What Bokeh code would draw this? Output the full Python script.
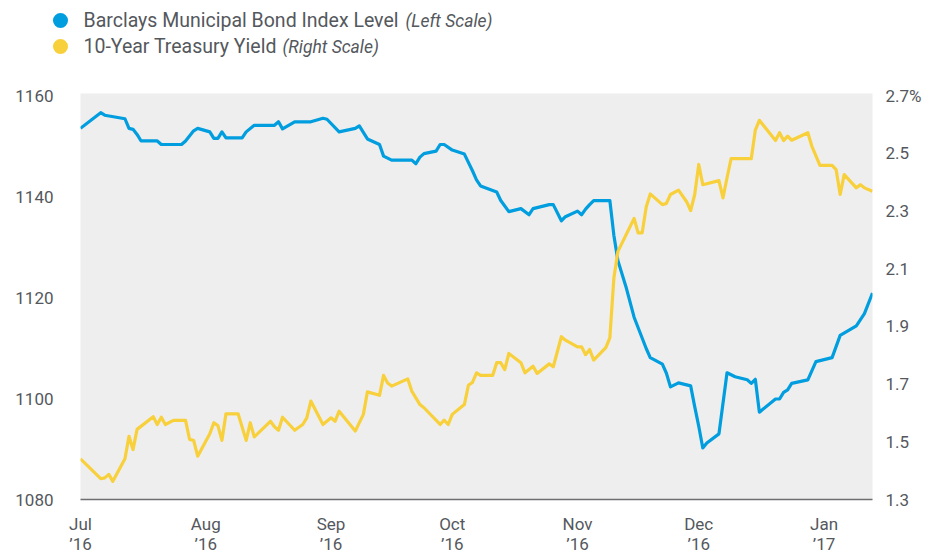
import pandas as pd
from bokeh.plotting import figure
from bokeh.layouts import column
from bokeh.models import Range1d, LinearAxis, FixedTicker
from bokeh.core.properties import value
from bokeh.embed import file_html
from bokeh.resources import INLINE

# ---------------- data ----------------
bond_dates = [
    "2016-07-01", "2016-07-06", "2016-07-07", "2016-07-12", "2016-07-13", "2016-07-14", "2016-07-15",
    "2016-07-16", "2016-07-20", "2016-07-21", "2016-07-26", "2016-07-27", "2016-07-29", "2016-07-30",
    "2016-08-02", "2016-08-03", "2016-08-04", "2016-08-05", "2016-08-06", "2016-08-10", "2016-08-11",
    "2016-08-13", "2016-08-18", "2016-08-19", "2016-08-20", "2016-08-23", "2016-08-27", "2016-08-30",
    "2016-08-31",
    "2016-09-03", "2016-09-07", "2016-09-08", "2016-09-10", "2016-09-13", "2016-09-14", "2016-09-16",
    "2016-09-21", "2016-09-22", "2016-09-23", "2016-09-24", "2016-09-27", "2016-09-28", "2016-09-29",
    "2016-10-01", "2016-10-04", "2016-10-06", "2016-10-07", "2016-10-08", "2016-10-12", "2016-10-13",
    "2016-10-15", "2016-10-18", "2016-10-20", "2016-10-21", "2016-10-25", "2016-10-26", "2016-10-28",
    "2016-10-29",
    "2016-11-01", "2016-11-02", "2016-11-03", "2016-11-04", "2016-11-05", "2016-11-09", "2016-11-10",
    "2016-11-11", "2016-11-13", "2016-11-15", "2016-11-18", "2016-11-19", "2016-11-22", "2016-11-23",
    "2016-11-24", "2016-11-26", "2016-11-29", "2016-11-30",
    "2016-12-01", "2016-12-02", "2016-12-03", "2016-12-06", "2016-12-08", "2016-12-10", "2016-12-13",
    "2016-12-14", "2016-12-15", "2016-12-16", "2016-12-20", "2016-12-21", "2016-12-22", "2016-12-23",
    "2016-12-24", "2016-12-28", "2016-12-30",
    "2017-01-03", "2017-01-05", "2017-01-09", "2017-01-11", "2017-01-13",
]
bond_level = [
    1153.5, 1156.6, 1156.1, 1155.4, 1153.5, 1153.3, 1152.3,
    1151.0, 1151.0, 1150.3, 1150.3, 1151.0, 1153.0, 1153.5,
    1152.8, 1151.5, 1151.5, 1152.8, 1151.6, 1151.6, 1152.8,
    1154.1, 1154.1, 1154.8, 1153.4, 1154.8, 1154.8, 1155.5,
    1155.3,
    1152.8, 1153.5, 1154.0, 1151.4, 1150.3, 1148.0, 1147.2,
    1147.2, 1146.5, 1147.8, 1148.5, 1149.0, 1150.3, 1150.3,
    1149.2, 1148.4, 1145.1, 1143.3, 1142.1, 1140.9, 1139.2,
    1137.0, 1137.6, 1136.4, 1137.6, 1138.4, 1138.4, 1135.2,
    1136.0,
    1137.1, 1136.4, 1137.5, 1138.4, 1139.2, 1139.2, 1132.3,
    1127.3, 1122.1, 1116.1, 1109.9, 1108.1, 1106.8, 1105.0,
    1102.3, 1103.1, 1102.5, 1098.4,
    1094.5, 1090.2, 1091.2, 1093.0, 1105.1, 1104.3, 1103.7,
    1103.0, 1103.8, 1097.3, 1099.9, 1099.9, 1101.2, 1101.7,
    1103.0, 1103.7, 1107.3,
    1108.1, 1112.5, 1114.4, 1116.8, 1120.9,
]

yield_dates = [
    "2016-07-01", "2016-07-06", "2016-07-07", "2016-07-08", "2016-07-09", "2016-07-12", "2016-07-13",
    "2016-07-14", "2016-07-15", "2016-07-19", "2016-07-20", "2016-07-21", "2016-07-22", "2016-07-24",
    "2016-07-27", "2016-07-28", "2016-07-29", "2016-07-30",
    "2016-08-02", "2016-08-03", "2016-08-04", "2016-08-05", "2016-08-06", "2016-08-09", "2016-08-11",
    "2016-08-12", "2016-08-13", "2016-08-17", "2016-08-18", "2016-08-19", "2016-08-20", "2016-08-23",
    "2016-08-25", "2016-08-26", "2016-08-27", "2016-08-30",
    "2016-09-01", "2016-09-02", "2016-09-03", "2016-09-07", "2016-09-09", "2016-09-10", "2016-09-13",
    "2016-09-14", "2016-09-15", "2016-09-16", "2016-09-20", "2016-09-21", "2016-09-23", "2016-09-24",
    "2016-09-28", "2016-09-29", "2016-09-30",
    "2016-10-01", "2016-10-04", "2016-10-05", "2016-10-06", "2016-10-07", "2016-10-08", "2016-10-11",
    "2016-10-12", "2016-10-13", "2016-10-14", "2016-10-15", "2016-10-18", "2016-10-19", "2016-10-21",
    "2016-10-22", "2016-10-25", "2016-10-26", "2016-10-28", "2016-10-29",
    "2016-11-01", "2016-11-02", "2016-11-03", "2016-11-04", "2016-11-05", "2016-11-08", "2016-11-09",
    "2016-11-10", "2016-11-11", "2016-11-15", "2016-11-16", "2016-11-17", "2016-11-18", "2016-11-19",
    "2016-11-22", "2016-11-23", "2016-11-24", "2016-11-26", "2016-11-28", "2016-11-29", "2016-11-30",
    "2016-12-01", "2016-12-02", "2016-12-06", "2016-12-07", "2016-12-08", "2016-12-09", "2016-12-14",
    "2016-12-15", "2016-12-16", "2016-12-20", "2016-12-21", "2016-12-22", "2016-12-23", "2016-12-24",
    "2016-12-28", "2016-12-29", "2016-12-31",
    "2017-01-03", "2017-01-04", "2017-01-05", "2017-01-06", "2017-01-09", "2017-01-10", "2017-01-11",
    "2017-01-13",
]
yield_pct = [
    1.441, 1.372, 1.375, 1.387, 1.363, 1.441, 1.519,
    1.473, 1.543, 1.587, 1.560, 1.585, 1.560, 1.574,
    1.574, 1.508, 1.505, 1.450,
    1.528, 1.566, 1.556, 1.505, 1.597, 1.597, 1.505,
    1.566, 1.517, 1.571, 1.552, 1.540, 1.585, 1.540,
    1.560, 1.583, 1.641, 1.560,
    1.583, 1.571, 1.606, 1.537, 1.595, 1.673, 1.661,
    1.730, 1.704, 1.693, 1.718, 1.675, 1.629, 1.618,
    1.560, 1.575, 1.560,
    1.595, 1.629, 1.696, 1.706, 1.739, 1.730, 1.730,
    1.774, 1.774, 1.750, 1.806, 1.774, 1.739, 1.762,
    1.737, 1.770, 1.760, 1.864, 1.852,
    1.829, 1.829, 1.802, 1.820, 1.783, 1.826, 1.860,
    2.068, 2.160, 2.274, 2.224, 2.224, 2.314, 2.359,
    2.322, 2.326, 2.357, 2.372, 2.332, 2.301, 2.357,
    2.461, 2.391, 2.405, 2.345, 2.415, 2.481, 2.481,
    2.580, 2.614, 2.544, 2.571, 2.544, 2.559, 2.545,
    2.571, 2.524, 2.458,
    2.458, 2.443, 2.357, 2.426, 2.380, 2.391, 2.380,
    2.368,
]

left_ticks = [1080, 1100, 1120, 1140, 1160]
right_ticks = [1.3, 1.5, 1.7, 1.9, 2.1, 2.3, 2.5, 2.7]
right_labels = ["1.3", "1.5", "1.7", "1.9", "2.1", "2.3", "2.5", "2.7%"]
month_ticks = ["2016-07-01", "2016-08-01", "2016-09-01", "2016-10-01",
               "2016-11-01", "2016-12-01", "2017-01-01"]
month_labels = ["Jul\n\u201916", "Aug\n\u201916", "Sep\n\u201916", "Oct\n\u201916",
                "Nov\n\u201916", "Dec\n\u201916", "Jan\n\u201917"]

legend_main = ["Barclays Municipal Bond Index Level", "10-Year Treasury Yield"]
legend_note = ["(Left Scale)", "(Right Scale)"]

# ---------------- style ----------------
BLUE = "#009ddf"
YELLOW = "#f8d03c"
TXT = "#54585d"
FONT = "Roboto"
W = 940
LEG_H = 60
H = 556 - LEG_H
BL, BR, BT, BB = 80, 68, 93 - LEG_H, 56   # frame borders of the main figure

assert len(bond_dates) == len(bond_level)
assert len(yield_dates) == len(yield_pct)

bx = pd.to_datetime(bond_dates)
yx = pd.to_datetime(yield_dates)

# ---------------- legend strip (pixel-like coordinates) ----------------
leg = figure(width=W, height=LEG_H, output_backend="svg", toolbar_location=None,
             x_range=Range1d(0, W), y_range=Range1d(LEG_H, 0),
             x_axis_location=None, y_axis_location=None,
             min_border=0, min_border_left=0, min_border_right=0,
             min_border_top=0, min_border_bottom=0)
leg.frame_align = False
leg.outline_line_color = None
leg.grid.visible = False
leg.background_fill_color = "white"
leg.border_fill_color = "white"

rows = [20, 46]
note_x = [405, 282]
leg.scatter(x=[60, 60], y=rows, size=15, marker="circle",
            fill_color=[BLUE, YELLOW], line_color=None)
leg.text(x=[83, 83], y=rows, text=legend_main, text_font=value(FONT),
         text_font_size="19.5px", text_color=TXT, text_baseline="middle", text_align="left")
leg.text(x=note_x, y=rows, text=legend_note, text_font=value(FONT),
         text_font_size="17.5px", text_font_style="italic", text_color=TXT,
         text_baseline="middle", text_align="left")

# ---------------- main chart ----------------
x_start = pd.Timestamp("2016-07-01")
x_end = pd.Timestamp("2017-01-13")

p = figure(width=W, height=H, x_axis_type="datetime", output_backend="svg",
           toolbar_location=None,
           x_range=Range1d(x_start, x_end),
           y_range=Range1d(1080, 1160.4),
           min_border_left=BL, min_border_right=BR,
           min_border_top=BT, min_border_bottom=BB)
p.frame_align = False
p.extra_y_ranges = {"yld": Range1d(1.3, 2.707)}

p.background_fill_color = "#eeeeee"
p.border_fill_color = "white"
p.outline_line_color = None
p.grid.visible = False

# left axis
ya = p.yaxis[0]
ya.ticker = FixedTicker(ticks=left_ticks)
ya.axis_line_color = None
ya.major_tick_line_color = None
ya.minor_tick_line_color = None
ya.major_tick_out = 0
ya.major_tick_in = 0
ya.major_label_standoff = 27
ya.major_label_text_font = FONT
ya.major_label_text_font_size = "17px"
ya.major_label_text_color = TXT

# right axis
ra = LinearAxis(y_range_name="yld")
ra.ticker = FixedTicker(ticks=right_ticks)
ra.major_label_overrides = {t: l for t, l in zip(right_ticks, right_labels)}
ra.axis_line_color = None
ra.major_tick_line_color = None
ra.minor_tick_line_color = None
ra.major_tick_out = 0
ra.major_tick_in = 0
ra.major_label_standoff = 13
ra.major_label_text_font = FONT
ra.major_label_text_font_size = "17px"
ra.major_label_text_color = TXT
p.add_layout(ra, "right")

# bottom axis
xa = p.xaxis[0]
tick_ms = [float(pd.Timestamp(d).value // 10**6) for d in month_ticks]
xa.ticker = FixedTicker(ticks=tick_ms)
xa.major_label_overrides = {t: l for t, l in zip(tick_ms, month_labels)}
xa.axis_line_color = "#6d6e71"
xa.axis_line_width = 1.5
xa.major_tick_line_color = None
xa.minor_tick_line_color = None
xa.major_tick_out = 0
xa.major_tick_in = 0
xa.major_label_standoff = 14
xa.major_label_text_font = FONT
xa.major_label_text_font_size = "17px"
xa.major_label_text_line_height = 1.0
xa.major_label_text_color = TXT

# lines
p.line(bx, bond_level, line_color=BLUE, line_width=3.2, line_join="round")
p.line(yx, yield_pct, line_color=YELLOW, line_width=3.2, line_join="round",
       y_range_name="yld")

layout = column(leg, p, spacing=0)
open("out.html", "w").write(file_html(layout, INLINE))
